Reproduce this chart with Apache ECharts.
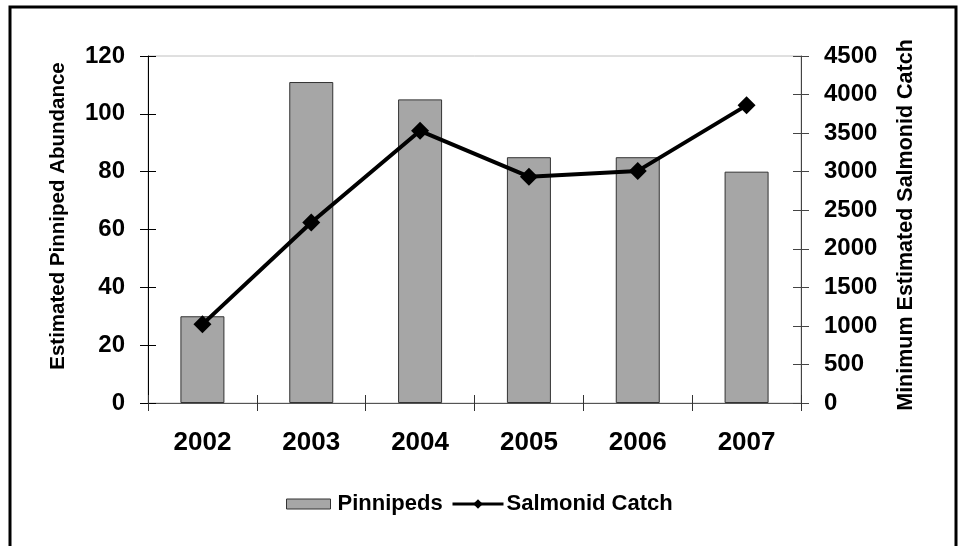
<!DOCTYPE html>
<html>
<head>
<meta charset="utf-8">
<script src="https://cdn.jsdelivr.net/npm/echarts@6/dist/echarts.min.js"></script>
<style>html,body{margin:0;padding:0;background:#fff}#c{width:959px;height:546px}</style>
</head>
<body>
<div id="c"></div>
<script>
var years = ['2002', '2003', '2004', '2005', '2006', '2007'];
var pinnipeds = [30, 111, 105, 85, 85, 80];
var salmonidCatch = [1020, 2340, 3530, 2935, 3010, 3860];
var leftTicks = {min: 0, max: 120, interval: 20};
var rightTicks = {min: 0, max: 4500, interval: 500};
var leftTitle = 'Estimated Pinniped Abundance';
var rightTitle = 'Minimum Estimated Salmonid Catch';

var FONT = "'Liberation Sans', Arial, sans-serif";
var chart = echarts.init(document.getElementById('c'), null, {renderer: 'canvas'});

function yAx(pos, range, tickInside, showLabel, lineColor) {
  return {
    type: 'value', position: pos, min: range.min, max: range.max, interval: range.interval,
    axisLine: {show: !tickInside, lineStyle: {color: lineColor, width: 1}},
    axisTick: {show: true, inside: tickInside, length: 8, lineStyle: {color: lineColor, width: 1}},
    axisLabel: {show: showLabel, fontFamily: FONT, fontWeight: 'bold', fontSize: 24, color: '#000', margin: 23,
      formatter: function (v) { return String(v); }},
    splitLine: {show: false}
  };
}

chart.setOption({
  backgroundColor: '#fff',
  animation: false,
  grid: {left: 148, right: 158, top: 56, bottom: 143, show: true, borderColor: '#c0c0c0', borderWidth: 1},
  graphic: [
    {type: 'rect', shape: {x: 10, y: 7, width: 946, height: 600}, style: {fill: 'none', stroke: '#000', lineWidth: 3}, silent: true, z: 100},
    {type: 'text', x: 58, y: 216, rotation: Math.PI / 2,
      style: {text: leftTitle, font: 'bold 20.5px ' + FONT, fill: '#000', textAlign: 'center', textVerticalAlign: 'middle'}},
    {type: 'text', x: 906, y: 225, rotation: Math.PI / 2,
      style: {text: rightTitle, font: 'bold 21.5px ' + FONT, fill: '#000', textAlign: 'center', textVerticalAlign: 'middle'}}
  ],
  legend: [
    {data: [{name: 'Pinnipeds', icon: 'rect'}], left: 281, top: 488, itemWidth: 44, itemHeight: 10, itemGap: 0,
      itemStyle: {borderColor: '#333', borderWidth: 1},
      textStyle: {fontFamily: FONT, fontWeight: 'bold', fontSize: 22, color: '#000', padding: [0, 0, 0, 2]}},
    {data: ['Salmonid Catch'], left: 446, top: 488, itemWidth: 51, itemHeight: 12, itemGap: 0,
      lineStyle: {width: 3, color: '#000'},
      textStyle: {fontFamily: FONT, fontWeight: 'bold', fontSize: 22, color: '#000', padding: [0, 0, 0, -2]}}
  ],
  xAxis: [
    {type: 'category', data: years, position: 'bottom',
      axisLine: {lineStyle: {color: '#555', width: 1}},
      axisTick: {show: true, inside: false, length: 8, lineStyle: {color: '#333'}},
      axisLabel: {fontFamily: FONT, fontWeight: 'bold', fontSize: 26, color: '#000', margin: 27}},
    {type: 'category', data: years, position: 'bottom',
      axisLine: {show: false},
      axisTick: {show: true, inside: true, length: 8, lineStyle: {color: '#333'}},
      axisLabel: {show: false}}
  ],
  yAxis: [
    yAx('left', leftTicks, false, true, '#000'),
    yAx('right', rightTicks, false, true, '#444'),
    yAx('left', leftTicks, true, false, '#000'),
    yAx('right', rightTicks, true, false, '#444')
  ],
  series: [
    {name: 'Pinnipeds', type: 'bar', data: pinnipeds, xAxisIndex: 0, yAxisIndex: 0, barWidth: 44,
      itemStyle: {color: '#a6a6a6', borderColor: '#333', borderWidth: 1}},
    {name: 'Salmonid Catch', type: 'line', data: salmonidCatch, xAxisIndex: 0, yAxisIndex: 1,
      symbol: 'diamond', symbolSize: 18, z: 5,
      lineStyle: {color: '#000', width: 4}, itemStyle: {color: '#000'}}
  ]
});
</script>
</body>
</html>
